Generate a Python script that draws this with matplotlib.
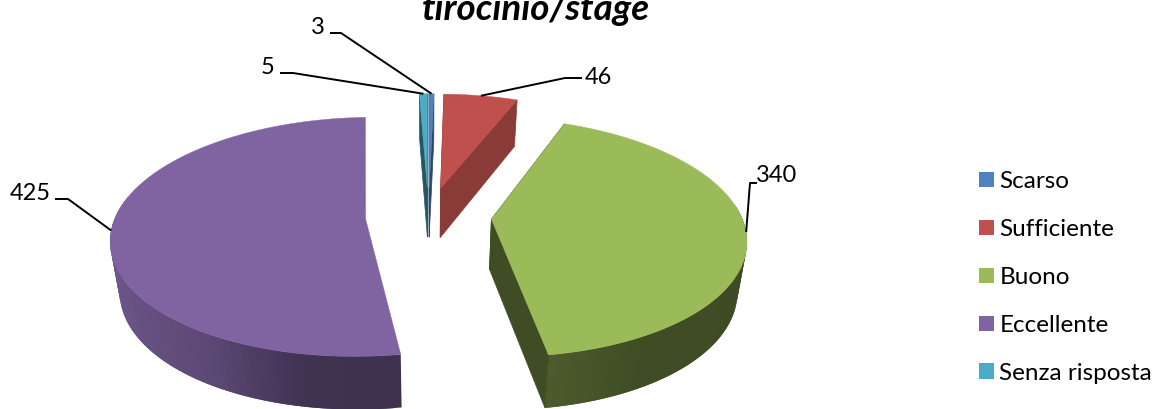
import matplotlib
matplotlib.use('Agg')
import matplotlib.pyplot as plt
from matplotlib.patches import Patch, Polygon
import numpy as np

plt.rcParams['font.family'] = ['Lato', 'DejaVu Sans']

# Data
categories = ['Scarso', 'Sufficiente', 'Buono', 'Eccellente', 'Senza risposta']
values = [3, 46, 340, 425, 5]
title_text = 'tirocinio/stage'

# Slice colours and how dark the cut side of each slice is
colors = ['#4F81BD', '#C0504D', '#9BBB59', '#8064A2', '#4BACC6']
cut_shade = [0.55, 0.72, 0.41, 0.50, 0.50]
show_cut = [True, True, True, False, True]

# Label position and leader elbow for each slice, in pixels
label_pos = [(318, 27), (598, 78), (777, 176), (30, 193), (268, 67)]
elbow_pos = [(341, 33), (565, 78), (750, 183), (68, 199), (293, 73)]
stub_x = [330, 582, 757, 55, 280]

# Fake 3D geometry
cx, cy = 428.5, 216
rx, ry = 250, 116
persp = 0.15
explode = 0.252


def project(u, v, low=False):
    # disc coordinates to pixels, far edge (v > 0) gets smaller
    p = 1 / (1 + persp * v)
    x = rx * u * p
    y = -ry * v * p
    if low:
        x = x * 0.97
        y = y + 50 - 3 * v
    return cx + x, cy + y


def shade(col, f):
    return tuple(c * f for c in matplotlib.colors.to_rgb(col))


def wall_factor(s):
    # light comes from the left, sin(theta) tells which way the wall points
    return np.interp(s, [-1, -0.5, -0.16, 0.16, 0.5, 1], [0.86, 0.72, 0.50, 0.49, 0.41, 0.40])


fig = plt.figure(figsize=(11.57, 4.09), dpi=100)
ax = fig.add_axes([0, 0, 1, 1])
ax.set_xlim(0, 1157)
ax.set_ylim(409, 0)
ax.axis('off')

# Angles run clockwise from twelve o'clock
edges = np.concatenate([[0], np.cumsum(values)]) / np.sum(values) * 2 * np.pi
anchors = []
slices = []
for i in range(len(values)):
    mid = (edges[i] + edges[i + 1]) / 2
    ox, oy = explode * np.sin(mid), explode * np.cos(mid)
    slices.append((i, edges[i], edges[i + 1], ox, oy))
    anchors.append(project(ox + np.sin(mid), oy + np.cos(mid)))

# Paint far slices first
draw_order = [0, 4, 1, 3, 2]
for i in draw_order:
    _, a0, a1, ox, oy = slices[i]
    th = np.linspace(a0, a1, max(int((a1 - a0) * 40), 3))
    us = ox + np.sin(th)
    vs = oy + np.cos(th)
    col = colors[i]
    cut = shade(col, cut_shade[i])

    # outer wall, one strip per step so it can carry the gradient
    # strips overlap the next one so no seams show
    for j in range(len(th) - 1):
        if np.cos(th[j]) > 0.15:
            continue
        k = min(j + 2, len(th) - 1)
        pts = [project(us[j], vs[j]), project(us[k], vs[k]),
               project(us[k], vs[k], True), project(us[j], vs[j], True)]
        c = shade(col, wall_factor(np.sin(th[j])))
        ax.add_patch(Polygon(pts, closed=True, fc=c, ec='none', lw=0, zorder=i))

    # the two cut sides
    if show_cut[i]:
        for a in (a0, a1):
            ue, ve = ox + np.sin(a), oy + np.cos(a)
            pts = [project(ox, oy), project(ue, ve), project(ue, ve, True), project(ox, oy, True)]
            ax.add_patch(Polygon(pts, closed=True, fc=cut, ec=cut, lw=0.5, zorder=i))

    # top face
    top = [project(ox, oy)] + [project(u, v) for u, v in zip(us, vs)]
    ax.add_patch(Polygon(top, closed=True, fc=col, ec=col, lw=0.3, zorder=i))

# Data labels with leader lines
for i in range(len(values)):
    lx, ly = label_pos[i]
    ex, ey = elbow_pos[i]
    ax.plot([stub_x[i], ex, anchors[i][0]], [ey, ey, anchors[i][1]], color='black', lw=1.4,
            zorder=20, solid_capstyle='butt')
    ax.text(lx, ly, str(values[i]), ha='center', va='center', fontsize=17, color='black', zorder=21)

ax.text(536, 9, title_text, ha='center', va='center', fontsize=26.5, fontweight='bold',
        fontstyle='italic', color='black')

handles = [Patch(fc=c, ec='none', label=n) for c, n in zip(colors, categories)]
ax.legend(handles=handles, loc='upper left', bbox_to_anchor=(979 / 1157, 1 - 171 / 409),
          bbox_transform=fig.transFigure, frameon=False, fontsize=17.5, handlelength=0.62,
          handleheight=0.62, handletextpad=0.22, labelspacing=1.11, borderpad=0, borderaxespad=0)

plt.savefig('out.png', dpi=100)
